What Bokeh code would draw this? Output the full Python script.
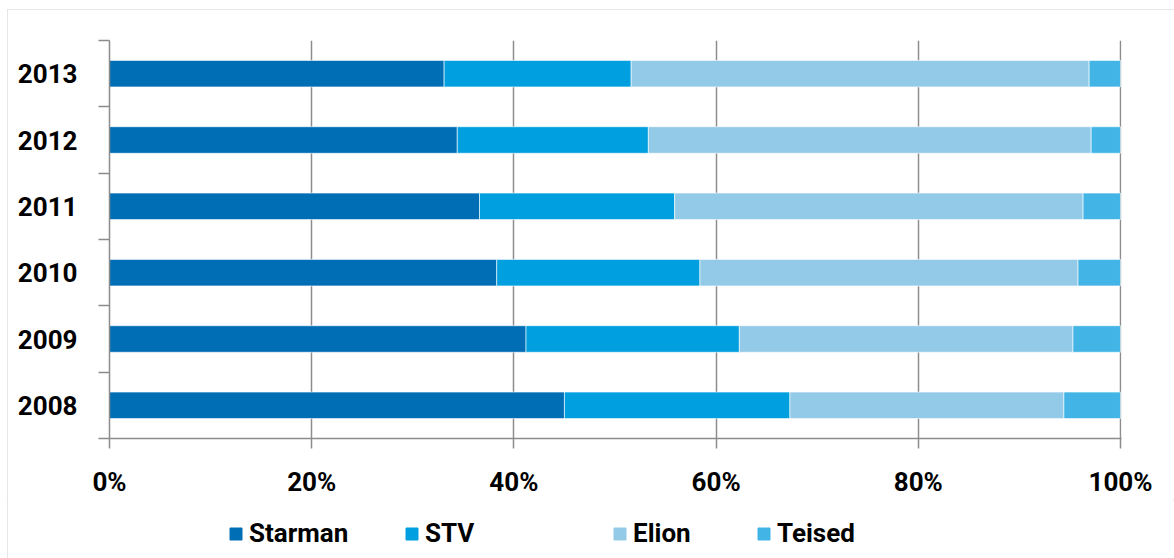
from bokeh.plotting import figure
from bokeh.layouts import column
from bokeh.models import ColumnDataSource, FixedTicker, Range1d, Legend, LegendItem, PrintfTickFormatter
from bokeh.embed import file_html
from bokeh.resources import INLINE

years = ["2008", "2009", "2010", "2011", "2012", "2013"]
series = ["Starman", "STV", "Elion", "Teised"]
starman = [45.0, 41.2, 38.3, 36.6, 34.4, 33.1]
stv = [22.3, 21.1, 20.1, 19.3, 18.9, 18.5]
elion = [27.1, 33.0, 37.4, 40.4, 43.8, 45.3]
teised = [5.6, 4.7, 4.2, 3.7, 2.9, 3.1]
x_ticks = [0, 20, 40, 60, 80, 100]
colors = ["#006EB5", "#009FDF", "#93CAE8", "#42B5E6"]

ypos = [i + 0.5 for i in range(len(years))]
bounds = [float(i) for i in range(len(years) + 1)]

source = ColumnDataSource(data=dict(y=ypos, Starman=starman, STV=stv, Elion=elion, Teised=teised))

GRAY = "#8c8c8c"
FONT = "Roboto"
W = 1167

p = figure(width=W, height=490, output_backend="svg", toolbar_location=None,
           x_range=Range1d(0, 100.1), y_range=Range1d(0, len(years)),
           min_border_left=102, min_border_right=53, min_border_top=31, min_border_bottom=60)
p.outline_line_color = None

renderers = p.hbar_stack(series, y="y", height=0.4, color=colors, source=source,
                         line_color="white", line_width=0.6)

# x axis
p.xaxis.ticker = FixedTicker(ticks=x_ticks)
p.xaxis.formatter = PrintfTickFormatter(format="%d%%")
p.xaxis.major_tick_out = 10
p.xaxis.major_tick_in = 0
p.xaxis.minor_tick_line_color = None
p.xaxis.major_label_standoff = 18

# y axis
p.yaxis.ticker = FixedTicker(ticks=ypos, minor_ticks=bounds)
p.yaxis.major_label_overrides = {y: lab for y, lab in zip(ypos, years)}
p.yaxis.major_tick_out = 0
p.yaxis.major_tick_in = 0
p.yaxis.minor_tick_out = 11
p.yaxis.minor_tick_in = 0
p.yaxis.minor_tick_line_color = GRAY
p.yaxis.minor_tick_line_width = 1.5
p.yaxis.major_label_standoff = 21

for ax in (p.xaxis, p.yaxis):
    ax.axis_line_color = GRAY
    ax.axis_line_width = 1.5
    ax.major_tick_line_width = 1.5
    ax.major_label_text_font = FONT
    ax.major_label_text_font_style = "bold"
    ax.major_label_text_font_size = "26px"
    ax.major_label_text_color = "#000000"
p.xaxis.major_tick_line_color = GRAY
p.yaxis.major_tick_line_color = None

p.ygrid.visible = False
p.xgrid.ticker = FixedTicker(ticks=x_ticks)
p.xgrid.grid_line_color = GRAY
p.xgrid.grid_line_width = 1.5

# legend strip (separate canvas so the legend is not clipped by the plot frame);
# its bars are the same stacked series, kept outside the visible y range
lg = figure(width=W, height=59, output_backend="svg", toolbar_location=None,
            x_axis_type=None, y_axis_type=None,
            x_range=Range1d(0, 100), y_range=Range1d(len(years) + 10, len(years) + 11),
            min_border_left=0, min_border_right=0, min_border_top=0, min_border_bottom=0)
lg.grid.visible = False
lg.outline_line_color = None
lg_renderers = lg.hbar_stack(series, y="y", height=0.4, color=colors, source=source)
legend_x = [119, 295, 503, 647]
for name, r, lx in zip(series, lg_renderers, legend_x):
    leg = Legend(items=[LegendItem(label=name, renderers=[r], index=0)], location=(lx, 10),
                 orientation="horizontal",
                 label_text_font=FONT, label_text_font_style="bold", label_text_font_size="26px",
                 label_text_color="#000000",
                 glyph_width=15, glyph_height=15, label_standoff=6,
                 padding=4, margin=0, border_line_color=None, background_fill_alpha=0)
    lg.add_layout(leg, "center")

layout = column(p, lg, spacing=0)
layout.styles = {"outline": "1px solid #dedede", "outline-offset": "-1px",
                 "margin-left": "7px", "margin-top": "9px"}

open("out.html", "w").write(file_html(layout, INLINE))
